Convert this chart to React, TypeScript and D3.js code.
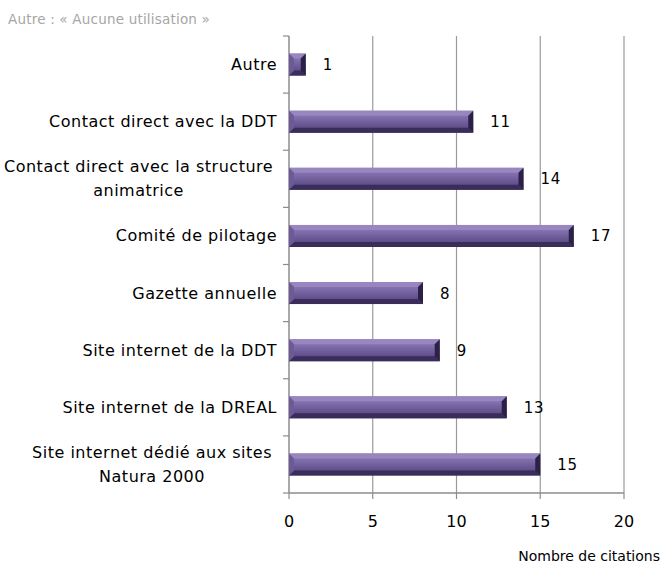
import React from "react";
import * as d3 from "d3";

const categories: string[][] = [
  ["Autre"],
  ["Contact direct avec la DDT"],
  ["Contact direct avec la structure", "animatrice"],
  ["Comité de pilotage"],
  ["Gazette annuelle"],
  ["Site internet de la DDT"],
  ["Site internet de la DREAL"],
  ["Site internet dédié aux sites", "Natura 2000"],
];
const values: number[] = [1, 11, 14, 17, 8, 9, 13, 15];
const xTicks: number[] = [0, 5, 10, 15, 20];
const title = "Autre : « Aucune utilisation »";
const xTitle = "Nombre de citations";

const W = 663, H = 567;
const left = 289, right = 624, top = 36, bottom = 493;
const FONT = "'DejaVu Sans', sans-serif";
const LS = 0.5;

let ctx: CanvasRenderingContext2D | null = null;
function measure(t: string, size: number) {
  if (!ctx) ctx = document.createElement("canvas").getContext("2d");
  if (!ctx) return t.length * size * 0.6;
  ctx.font = `${size}px ${FONT}`;
  return ctx.measureText(t).width + LS * t.length;
}

export default function App() {
  const x = d3.scaleLinear().domain([0, 20]).range([left, right]);
  const y = d3.scaleBand<number>().domain(d3.range(categories.length)).range([top, bottom]);
  const barH = 22;
  const bv = 5;
  const labelSize = 16;

  return (
    <svg width={W} height={H} style={{ display: "block", position: "absolute", left: 0, top: 0 }} fontFamily={FONT}>
      <defs>
        <linearGradient id="mid" x1="0" y1="0" x2="0" y2="1">
          <stop offset="0" stopColor="#9280bb" />
          <stop offset="0.35" stopColor="#7d6aa8" />
          <stop offset="1" stopColor="#4f3f78" />
        </linearGradient>
      </defs>
      <text x={8} y={24} fontSize={13.5} fill="#a6a6a6" letterSpacing={0.2}>{title}</text>
      {xTicks.filter((t) => t > 0).map((t) => (
        <line key={"g" + t} x1={x(t)} x2={x(t)} y1={top} y2={bottom} stroke="#9a9a9a" strokeWidth={1.2} />
      ))}
      <line x1={left} x2={left} y1={top} y2={bottom} stroke="#8c8c8c" strokeWidth={1.5} />
      {d3.range(categories.length + 1).map((i) => {
        const yy = top + i * y.step();
        return <line key={"yt" + i} x1={left - 6} x2={left} y1={yy} y2={yy} stroke="#8c8c8c" strokeWidth={1.2} />;
      })}
      <line x1={left} x2={right} y1={bottom} y2={bottom} stroke="#8c8c8c" strokeWidth={1.5} />
      {xTicks.map((t) => (
        <g key={"xt" + t}>
          <line x1={x(t)} x2={x(t)} y1={bottom} y2={bottom + 6} stroke="#8c8c8c" strokeWidth={1.2} />
          <text x={x(t)} y={527} fontSize={16} textAnchor="middle" fill="#000">{t}</text>
        </g>
      ))}
      <text x={660} y={561} fontSize={14} textAnchor="end" fill="#000">{xTitle}</text>
      {values.map((v, i) => {
        const cy = (y(i) as number) + y.bandwidth() / 2;
        const x0 = x(0);
        const x1 = x(v);
        const y0 = cy - barH / 2;
        const y1 = cy + barH / 2;
        const b = Math.min(bv, (x1 - x0) / 2);
        return (
          <g key={"b" + i}>
            <rect x={x0} y={y0} width={x1 - x0} height={barH} fill="url(#mid)" />
            <polygon points={`${x0},${y0} ${x1},${y0} ${x1 - b},${y0 + b} ${x0 + b},${y0 + b}`} fill="#9886bf" />
            <polygon points={`${x0},${y1} ${x1},${y1} ${x1 - b},${y1 - b} ${x0 + b},${y1 - b}`} fill="#3b2d5a" />
            <polygon points={`${x0},${y0} ${x0 + b},${y0 + b} ${x0 + b},${y1 - b} ${x0},${y1}`} fill="#6c5a98" />
            <polygon points={`${x1},${y0} ${x1 - b},${y0 + b} ${x1 - b},${y1 - b} ${x1},${y1}`} fill="#2c2046" />
            <text x={x1 + 17} y={cy + 1} fontSize={15} dominantBaseline="middle" fill="#000" letterSpacing={0.8}>{v}</text>
          </g>
        );
      })}
      {categories.map((lines, i) => {
        const cy = (y(i) as number) + y.bandwidth() / 2;
        const rightEdge = 277;
        const lh = 24;
        if (lines.length === 1) {
          return (
            <text key={"c" + i} x={rightEdge} y={cy + 1} fontSize={labelSize} letterSpacing={LS} textAnchor="end" dominantBaseline="middle" fill="#000">{lines[0]}</text>
          );
        }
        const maxW = Math.max(...lines.map((l) => measure(l, labelSize)));
        const cx = Math.max(rightEdge - 5 - maxW / 2, maxW / 2 + 4);
        return (
          <g key={"c" + i}>
            {lines.map((l, j) => (
              <text key={j} x={cx} y={cy + 1 + (j - (lines.length - 1) / 2) * lh} fontSize={labelSize} letterSpacing={LS} textAnchor="middle" dominantBaseline="middle" fill="#000">{l}</text>
            ))}
          </g>
        );
      })}
    </svg>
  );
}
